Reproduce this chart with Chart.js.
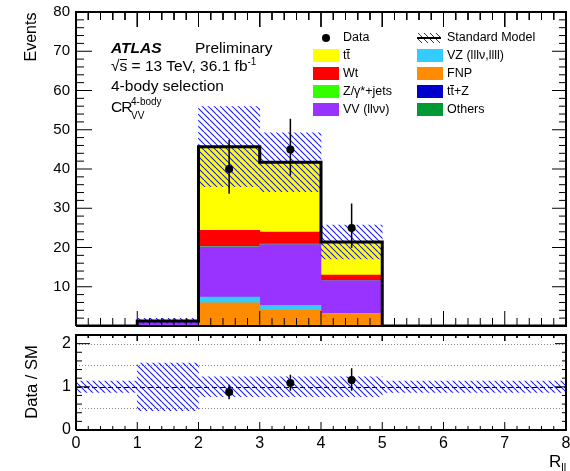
<!DOCTYPE html>
<html>
<head>
<meta charset="utf-8">
<script src="https://cdn.jsdelivr.net/npm/chart.js@4.4.1/dist/chart.umd.min.js"></script>
<style>
  html, body { margin: 0; padding: 0; background: #fff; overflow: hidden; }
  #wrap { position: relative; width: 570px; height: 471px; overflow: hidden;
          font-family: "Liberation Sans", Arial, sans-serif; color: #000; }
  canvas { position: absolute; left: 0; }
  .t { position: absolute; white-space: nowrap; line-height: 1; }
  .ol { display: inline-block; border-top: 1px solid #000; line-height: 0.8; }
  .box { position: absolute; width: 26px; height: 13px; }
</style>
</head>
<body>
<div id="wrap">
  <canvas id="main" width="570" height="330" style="top:0"></canvas>
  <canvas id="ratio" width="570" height="141" style="top:330px"></canvas>

  <div class="t" style="left:31px;top:37px;font-size:16px;transform:translate(-50%,-50%) rotate(-90deg)">Events</div>
  <div class="t" style="left:30.5px;top:382px;font-size:16.5px;transform:translate(-50%,-50%) rotate(-90deg)">Data / SM</div>
  <div class="t" style="left:549px;top:453px;font-size:17px">R<span style="font-size:11px;position:relative;top:4px">ll</span></div>

  <div class="t" style="left:111px;top:39.6px;font-size:15.5px;font-weight:bold;font-style:italic">ATLAS</div>
  <div class="t" style="left:195px;top:39.6px;font-size:15.5px">Preliminary</div>
  <div class="t" style="left:111px;top:57.5px;font-size:15.5px">√<span class="ol">s</span> = 13 TeV, 36.1 fb<span style="font-size:10px;position:relative;top:-6px">-1</span></div>
  <div class="t" style="left:111px;top:77.5px;font-size:15.5px">4-body selection</div>
  <div class="t" style="left:111px;top:98.5px;font-size:15.5px;letter-spacing:-1px">CR</div>
  <div class="t" style="left:131px;top:97px;font-size:10px">4-body</div>
  <div class="t" style="left:131px;top:110.5px;font-size:10px">VV</div>

  <div id="legend"></div>
</div>
<script>
// bins of R_ll
const binCenters = [0.5, 1.5, 2.5, 3.5, 4.5, 5.5, 6.5, 7.5];
const binEdges = [0, 1, 2, 3, 4, 5, 6, 7, 8];

// backgrounds, bottom of the stack first
const others = [0, 0, 0.15, 0.1, 0.1, 0, 0, 0];
const ttZ    = [0, 0, 0.05, 0.05, 0.05, 0, 0, 0];
const fnp    = [0, 0.1, 5.7, 3.9, 2.8, 0, 0, 0];
const vz     = [0, 0.05, 1.5, 1.2, 0.3, 0, 0, 0];
const vv     = [0, 1.0, 12.8, 15.5, 8.3, 0, 0, 0];
const zjets  = [0, 0, 0.1, 0.1, 0.05, 0, 0, 0];
const wt     = [0, 0.05, 4.1, 3.1, 1.4, 0, 0, 0];
const ttbar  = [0, 0.1, 21.3, 17.75, 8.4, 0, 0, 0];

// SM uncertainty
const smErr = [0, 0.65, 10.2, 7.5, 4.3, 0, 0, 0];

// data
const dataX = [2.5, 3.5, 4.5];
const dataY = [40, 45, 25];
const dataErrUp = [7.4, 7.8, 6.2];
const dataErrDn = [6.3, 6.7, 5.1];

// ratio panel
const ratioY = [0.88, 1.09, 1.16];
const ratioErrUp = [0.17, 0.19, 0.27];
const ratioErrDn = [0.17, 0.18, 0.25];
const ratioBandLo = [0.87, 0.45, 0.77, 0.77, 0.77, 0.87, 0.87, 0.87];
const ratioBandHi = [1.13, 1.55, 1.23, 1.23, 1.23, 1.13, 1.13, 1.13];
const ratioGuides = [0.5, 1.5, 2];

const stackSeries = [
  {name: 'Others', values: others, color: '#009933'},
  {name: 'ttZ', values: ttZ, color: '#0000cc'},
  {name: 'FNP', values: fnp, color: '#ff8c00'},
  {name: 'VZ', values: vz, color: '#33ccff'},
  {name: 'VV', values: vv, color: '#9933ff'},
  {name: 'Zjets', values: zjets, color: '#33ff00'},
  {name: 'Wt', values: wt, color: '#ff0000'},
  {name: 'ttbar', values: ttbar, color: '#ffff00'}
];

const legendItems = [
  [{label: 'Data', kind: 'data'}, {label: 'Standard Model', kind: 'sm'}],
  [{label: 't<span class="ol">t</span>', color: '#ffff00'}, {label: 'VZ (lllν,llll)', color: '#33ccff'}],
  [{label: 'Wt', color: '#ff0000'}, {label: 'FNP', color: '#ff8c00'}],
  [{label: 'Z/γ*+jets', color: '#33ff00'}, {label: 't<span class="ol">t</span>+Z', color: '#0000cc'}],
  [{label: 'VV (llνν)', color: '#9933ff'}, {label: 'Others', color: '#009933'}]
];

const smTotal = binCenters.map((_, i) => stackSeries.reduce((s, d) => s + d.values[i], 0));

Chart.defaults.font.family = '"Liberation Sans", Arial, sans-serif';
Chart.defaults.color = '#000';

function makeHatch() {
  const c = document.createElement('canvas');
  c.width = 6; c.height = 6;
  const g = c.getContext('2d');
  g.strokeStyle = '#1a1aff';
  g.lineWidth = 1.1;
  g.beginPath();
  for (const o of [-6, 0, 6]) { g.moveTo(o, 0); g.lineTo(o + 6, 6); }
  g.stroke();
  return g.createPattern(c, 'repeat');
}
const hatch = makeHatch();

const errorBars = {
  id: 'errorBars',
  afterDatasetsDraw(chart) {
    const {ctx, scales: {x, y}} = chart;
    chart.data.datasets.forEach(ds => {
      if (!ds.errUp) return;
      ctx.save();
      ctx.strokeStyle = '#000';
      ctx.lineWidth = 1.5;
      ds.data.forEach((p, i) => {
        const px = x.getPixelForValue(p.x);
        ctx.beginPath();
        ctx.moveTo(px, y.getPixelForValue(p.y + ds.errUp[i]));
        ctx.lineTo(px, y.getPixelForValue(p.y - ds.errDn[i]));
        ctx.stroke();
      });
      ctx.restore();
    });
  }
};

const guideLines = {
  id: 'guideLines',
  beforeDatasetsDraw(chart) {
    const {ctx, chartArea: a, scales: {y}} = chart;
    ctx.save();
    ctx.lineWidth = 1;
    ctx.strokeStyle = '#888';
    ctx.setLineDash([1, 2]);
    ratioGuides.forEach(v => {
      const py = Math.round(y.getPixelForValue(v)) + 0.5;
      ctx.beginPath(); ctx.moveTo(a.left, py); ctx.lineTo(a.right, py); ctx.stroke();
    });
    ctx.strokeStyle = '#000';
    ctx.setLineDash([5, 3]);
    const p1 = Math.round(y.getPixelForValue(1)) + 0.5;
    ctx.beginPath(); ctx.moveTo(a.left, p1); ctx.lineTo(a.right, p1); ctx.stroke();
    ctx.restore();
  }
};

// frame and inward ticks as line datasets; tick lengths turned into values through the scales
function addFrame(chart, o) {
  const a = chart.chartArea;
  const x = chart.scales.x;
  const y = chart.scales.y;
  const tickPts = [];
  const nx = Math.round((x.max - x.min) / o.xMinor);
  for (let k = 0; k <= nx; k++) {
    const v = x.min + k * o.xMinor;
    const major = Math.abs(v / o.xMajor - Math.round(v / o.xMajor)) < 1e-6;
    tickPts.push({x: v, y: y.min}, {x: v, y: y.getValueForPixel(a.bottom - (major ? o.xMajLen : o.xMinLen))}, {x: v, y: null});
    tickPts.push({x: v, y: y.max}, {x: v, y: y.getValueForPixel(a.top + (major ? o.xTopMaj : o.xTopMin))}, {x: v, y: null});
  }
  const ny = Math.floor((y.max - y.min) / o.yMinor + 1e-6);
  for (let k = 0; k <= ny; k++) {
    const v = y.min + k * o.yMinor;
    const major = Math.abs(v / o.yMajor - Math.round(v / o.yMajor)) < 1e-6;
    tickPts.push({x: x.min, y: v}, {x: x.getValueForPixel(a.left + (major ? o.yMajLen : o.yMinLen)), y: v}, {x: x.min, y: null});
    tickPts.push({x: x.max, y: v}, {x: x.getValueForPixel(a.right - (major ? o.yRightMaj : o.yRightMin)), y: v}, {x: x.max, y: null});
  }
  const common = {type: 'line', borderColor: '#000', pointRadius: 0, pointHitRadius: 0,
                  fill: false, tension: 0, spanGaps: false, clip: false, order: -1};
  chart.data.datasets.push({
    ...common, label: 'ticks', stack: 'ticks', borderWidth: 1, data: tickPts
  });
  chart.data.datasets.push({
    ...common, label: 'frame', stack: 'frame', borderWidth: 2,
    data: [{x: x.min, y: y.min}, {x: x.max, y: y.min}, {x: x.max, y: y.max},
           {x: x.min, y: y.max}, {x: x.min, y: y.min}]
  });
  chart.update();
}

const barCommon = {grouped: false, barPercentage: 1, categoryPercentage: 1, borderWidth: 0};
const noGrid = {display: false, drawTicks: false, offset: false};

const mainChart = new Chart(document.getElementById('main'), {
  type: 'bar',
  data: {
    datasets: [
      ...stackSeries.map(s => ({
        ...barCommon, type: 'bar', label: s.name, stack: 'sm', order: 3,
        backgroundColor: s.color,
        data: binCenters.map((x, i) => ({x, y: s.values[i]}))
      })),
      {
        ...barCommon, type: 'bar', label: 'SM unc', stack: 'band', order: 2,
        backgroundColor: hatch,
        data: binCenters.map((x, i) => ({x, y: smErr[i] > 0 ? [smTotal[i] - smErr[i], smTotal[i] + smErr[i]] : null}))
      },
      {
        type: 'line', label: 'Standard Model', stack: 'outline', order: 1,
        borderColor: '#000', borderWidth: 3, pointRadius: 0, stepped: true, fill: false,
        data: binEdges.map((x, i) => ({x, y: i < smTotal.length ? smTotal[i] : 0}))
      },
      {
        type: 'scatter', label: 'Data', stack: 'data', order: 0,
        pointRadius: 4, pointBackgroundColor: '#000', pointBorderWidth: 0,
        errUp: dataErrUp, errDn: dataErrDn,
        data: dataX.map((x, i) => ({x, y: dataY[i]}))
      }
    ]
  },
  options: {
    responsive: false,
    animation: false,
    layout: {padding: {top: 12, right: 3, bottom: 3, left: 0}},
    plugins: {legend: {display: false}, tooltip: {enabled: false}},
    scales: {
      x: {
        type: 'linear', min: 0, max: 8, offset: false,
        grid: noGrid, border: {display: false},
        ticks: {stepSize: 1, display: false},
        afterFit: s => { s.height = 0; s.paddingLeft = 0; s.paddingRight = 0; }
      },
      y: {
        stacked: true, min: 0, max: 80,
        grid: noGrid, border: {display: false},
        ticks: {stepSize: 10, padding: 6, font: {size: 15}, callback: v => v === 0 ? '' : v},
        afterFit: s => { s.width = 76; s.paddingTop = 0; s.paddingBottom = 0; }
      }
    }
  },
  plugins: [errorBars]
});

const ratioChart = new Chart(document.getElementById('ratio'), {
  type: 'bar',
  data: {
    datasets: [
      {
        ...barCommon, type: 'bar', label: 'SM unc', order: 2,
        backgroundColor: hatch,
        data: binCenters.map((x, i) => ({x, y: [ratioBandLo[i], ratioBandHi[i]]}))
      },
      {
        type: 'scatter', label: 'Data / SM', order: 0,
        pointRadius: 4, pointBackgroundColor: '#000', pointBorderWidth: 0,
        errUp: ratioErrUp, errDn: ratioErrDn,
        data: dataX.map((x, i) => ({x, y: ratioY[i]}))
      }
    ]
  },
  options: {
    responsive: false,
    animation: false,
    layout: {padding: {top: 5, right: 3, bottom: 0, left: 0}},
    plugins: {legend: {display: false}, tooltip: {enabled: false}},
    scales: {
      x: {
        type: 'linear', min: 0, max: 8, offset: false,
        grid: noGrid, border: {display: false},
        ticks: {stepSize: 1, padding: 4, font: {size: 16}, maxRotation: 0, autoSkip: false},
        afterFit: s => { s.height = 41; s.paddingLeft = 0; s.paddingRight = 0; }
      },
      y: {
        min: 0, max: 2.2,
        grid: noGrid, border: {display: false},
        ticks: {stepSize: 1, includeBounds: false, padding: 5, font: {size: 16}},
        afterFit: s => { s.width = 76; s.paddingTop = 0; s.paddingBottom = 0; }
      }
    }
  },
  plugins: [guideLines, errorBars]
});

addFrame(mainChart, {xMinor: 0.2, xMajor: 1, xMajLen: 15, xMinLen: 8, xTopMaj: 15, xTopMin: 8,
                     yMinor: 2, yMajor: 10, yMajLen: 16, yMinLen: 8, yRightMaj: 14, yRightMin: 7});
addFrame(ratioChart, {xMinor: 0.2, xMajor: 1, xMajLen: 8, xMinLen: 4, xTopMaj: 6, xTopMin: 3,
                      yMinor: 0.2, yMajor: 1, yMajLen: 14, yMinLen: 6, yRightMaj: 11, yRightMin: 4});

// legend, built as html text
const rowCenters = [37.7, 55, 73.3, 91, 109];
const colBox = [313, 417];
const colText = [343, 447];
let html = '';
legendItems.forEach((row, r) => {
  row.forEach((it, c) => {
    const cy = rowCenters[r];
    if (it.kind === 'data') {
      html += `<div style="position:absolute;left:${colBox[c] + 9}px;top:${cy - 4}px;width:8px;height:8px;border-radius:50%;background:#000"></div>`;
    } else if (it.kind === 'sm') {
      html += `<div style="position:absolute;left:${colBox[c]}px;top:${cy - 5}px;width:24px;height:10px;background:repeating-linear-gradient(45deg,#fff 0 3px,#1a1aff 3px 4.2px)"></div>`;
      html += `<div style="position:absolute;left:${colBox[c]}px;top:${cy - 1}px;width:24px;height:2px;background:#000"></div>`;
    } else {
      html += `<div class="box" style="left:${colBox[c]}px;top:${cy - 6.5}px;background:${it.color}"></div>`;
    }
    html += `<div class="t" style="left:${colText[c]}px;top:${cy - 6.3}px;font-size:12.5px">${it.label}</div>`;
  });
});
document.getElementById('legend').innerHTML = html;
</script>
</body>
</html>
